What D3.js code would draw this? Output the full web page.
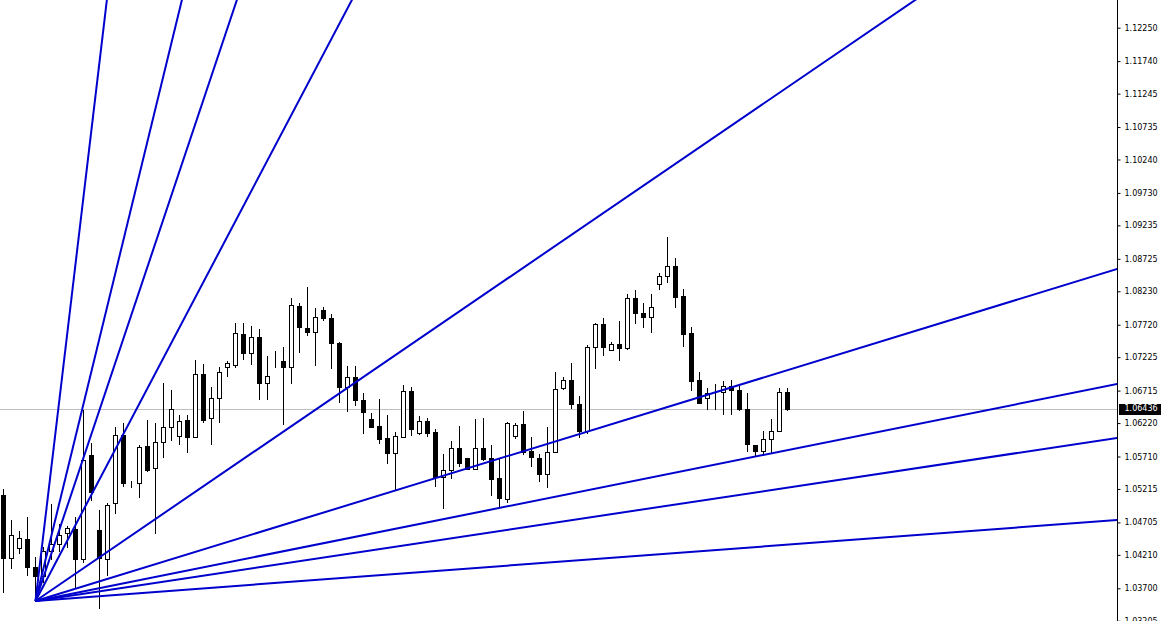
<!DOCTYPE html>
<html>
<head>
<meta charset="utf-8">
<script src="https://cdn.jsdelivr.net/npm/d3@7"></script>
<style>
  body { margin: 0; background: #fff; }
  svg { display: block; }
</style>
</head>
<body>
<svg id="chart" width="1161" height="621"></svg>
<script>
// daily bars, oldest first
const opens = [
  1.05123, 1.04158, 1.04310, 1.04448, 1.04021, 1.03893, 1.04266, 1.04371, 1.04539, 1.04600,
  1.04143, 1.05733, 1.04590, 1.04140, 1.04997, 1.06038, 1.05297, 1.05303, 1.05863, 1.05530,
  1.05935, 1.06165, 1.06023, 1.06267, 1.06012, 1.06964, 1.06293, 1.06598, 1.07075, 1.07106,
  1.07579, 1.07284, 1.07528, 1.06827, 1.07172, 1.07167, 1.07075, 1.08006, 1.07666, 1.07614,
  1.07945, 1.07818, 1.07446, 1.06775, 1.06918, 1.06572, 1.06278, 1.06176, 1.05988, 1.05764,
  1.06012, 1.06709, 1.06064, 1.06252, 1.06089, 1.05402, 1.05505, 1.05843, 1.05683, 1.05523,
  1.05843, 1.05683, 1.05375, 1.05058, 1.06028, 1.06202, 1.05799, 1.05683, 1.05439, 1.05784,
  1.06751, 1.06882, 1.06511, 1.06104, 1.07376, 1.07727, 1.07335, 1.07426, 1.07361, 1.08123,
  1.07894, 1.07833, 1.08337, 1.08456, 1.08616, 1.08158, 1.07589, 1.06877, 1.06598, 1.06725,
  1.06689, 1.06786, 1.06725, 1.06430, 1.05886, 1.05799, 1.05977, 1.06099, 1.06689
];
const highs = [
  1.05210, 1.04742, 1.04574, 1.04792, 1.04182, 1.04335, 1.04986, 1.04676, 1.04651, 1.04792,
  1.06420, 1.05916, 1.04895, 1.04997, 1.06165, 1.06221, 1.05337, 1.05886, 1.06267, 1.06226,
  1.06836, 1.06725, 1.06343, 1.06343, 1.07182, 1.07117, 1.06766, 1.07080, 1.07172, 1.07742,
  1.07742, 1.07701, 1.07650, 1.07243, 1.07319, 1.07376, 1.08123, 1.08047, 1.08300, 1.07980,
  1.07986, 1.07884, 1.07461, 1.07091, 1.07091, 1.06683, 1.06369, 1.06583, 1.06343, 1.06089,
  1.06801, 1.06766, 1.06328, 1.06302, 1.06125, 1.05749, 1.05954, 1.06176, 1.05690, 1.06278,
  1.06293, 1.05886, 1.05683, 1.06232, 1.06226, 1.06404, 1.06003, 1.05744, 1.06160, 1.06999,
  1.06928, 1.07136, 1.06633, 1.07411, 1.07751, 1.07818, 1.07461, 1.07782, 1.08184, 1.08250,
  1.08047, 1.08184, 1.08504, 1.09054, 1.08733, 1.08260, 1.07681, 1.07004, 1.06751, 1.06816,
  1.06867, 1.06882, 1.06786, 1.06674, 1.05890, 1.06104, 1.06282, 1.06751, 1.06751
];
const lows = [
  1.03649, 1.04005, 1.04242, 1.03903, 1.03510, 1.03801, 1.04140, 1.04266, 1.04335, 1.03725,
  1.04102, 1.05047, 1.03395, 1.03903, 1.04844, 1.05258, 1.05241, 1.05097, 1.05482, 1.04539,
  1.05707, 1.05962, 1.05901, 1.05784, 1.06005, 1.06241, 1.05896, 1.06241, 1.06943, 1.07075,
  1.07197, 1.07117, 1.06583, 1.06583, 1.07080, 1.06202, 1.06836, 1.07309, 1.07563, 1.07106,
  1.07792, 1.07060, 1.06546, 1.06404, 1.06496, 1.06073, 1.06160, 1.05912, 1.05607, 1.05210,
  1.06003, 1.06038, 1.06060, 1.06023, 1.05258, 1.04930, 1.05378, 1.05563, 1.05518, 1.05518,
  1.05657, 1.05123, 1.04945, 1.05021, 1.05988, 1.05749, 1.05566, 1.05341, 1.05241, 1.05780,
  1.06745, 1.06446, 1.06003, 1.06064, 1.07060, 1.07258, 1.07330, 1.07182, 1.07355, 1.07751,
  1.07679, 1.07605, 1.08260, 1.08379, 1.07986, 1.07396, 1.06725, 1.06522, 1.06430, 1.06430,
  1.06354, 1.06354, 1.06425, 1.05799, 1.05733, 1.05733, 1.05764, 1.06095, 1.06420
];
const closes = [
  1.04158, 1.04513, 1.04463, 1.04021, 1.03893, 1.04266, 1.04371, 1.04513, 1.04615, 1.04143,
  1.05657, 1.05174, 1.04158, 1.04971, 1.06038, 1.05303, 1.05297, 1.05851, 1.05505, 1.05935,
  1.06160, 1.06430, 1.06256, 1.06012, 1.06964, 1.06267, 1.06598, 1.06995, 1.07132, 1.07589,
  1.07284, 1.07528, 1.06827, 1.06943, 1.07172, 1.07075, 1.08021, 1.07690, 1.07614, 1.07843,
  1.07818, 1.07437, 1.06775, 1.06918, 1.06572, 1.06394, 1.06165, 1.05977, 1.05764, 1.06028,
  1.06709, 1.06130, 1.06252, 1.06073, 1.05402, 1.05505, 1.05843, 1.05614, 1.05523, 1.05843,
  1.05672, 1.05363, 1.05073, 1.06217, 1.06191, 1.05784, 1.05703, 1.05439, 1.05784, 1.06735,
  1.06882, 1.06507, 1.06104, 1.07376, 1.07727, 1.07385, 1.07426, 1.07361, 1.08123, 1.07894,
  1.07833, 1.07986, 1.08456, 1.08616, 1.08148, 1.07579, 1.06867, 1.06531, 1.06683, 1.06725,
  1.06786, 1.06725, 1.06430, 1.05896, 1.05799, 1.05977, 1.06099, 1.06699, 1.06436
];

const priceTicks = [
  1.12250, 1.11740, 1.11245, 1.10735, 1.10240, 1.09730, 1.09235, 1.08725, 1.08230, 1.07720,
  1.07225, 1.06715, 1.06220, 1.05710, 1.05215, 1.04705, 1.04210, 1.03700, 1.03205
];

// gann fan: anchor bar / price and slope of each ray in price per bar
const fanOrigin = { bar: 4, price: 1.03507 };
const fanSlopes = [0.010275, 0.0050085, 0.0036414, 0.0023175, 0.0008335, 0.0003745, 0.0002447, 0.0001839, 0.0000913];

const svg = d3.select('#chart');
const width = +svg.attr('width');
const height = +svg.attr('height');
const plotRight = 1117;
const barStep = 8;

const x = d3.scaleLinear()
  .domain([0, closes.length - 1])
  .range([3.5, 3.5 + barStep * (closes.length - 1)]);
const y = d3.scaleLinear()
  .domain([1.03700, 1.12250])
  .range([588.3, 27.7]);

const bars = closes.map((c, i) => ({ i, o: opens[i], h: highs[i], l: lows[i], c }));
const snap = v => Math.round(v) + 0.5;

svg.append('defs').append('clipPath').attr('id', 'plot')
  .append('rect').attr('x', 0).attr('y', 0).attr('width', plotRight).attr('height', height);

const plot = svg.append('g').attr('clip-path', 'url(#plot)');

// bid line
const lastClose = closes[closes.length - 1];
plot.append('line')
  .attr('x1', 0).attr('x2', plotRight)
  .attr('y1', snap(y(lastClose))).attr('y2', snap(y(lastClose)))
  .attr('stroke', '#c0c0c0').attr('stroke-width', 1);

// candles
const candle = plot.append('g').attr('class', 'candles')
  .selectAll('g').data(bars).enter().append('g');

candle.append('line')
  .attr('x1', d => x(d.i)).attr('x2', d => x(d.i))
  .attr('y1', d => Math.round(y(d.h))).attr('y2', d => Math.round(y(d.l)) + 1)
  .attr('stroke', '#000').attr('stroke-width', 1);

candle.append('rect')
  .attr('x', d => x(d.i) - 2)
  .attr('width', 4)
  .attr('y', d => snap(y(Math.max(d.o, d.c))))
  .attr('height', d => Math.round(y(Math.min(d.o, d.c))) - Math.round(y(Math.max(d.o, d.c))))
  .attr('fill', d => d.c < d.o ? '#000' : '#fff')
  .attr('stroke', '#000').attr('stroke-width', 1);

// fan rays
const farBar = 400;
plot.append('g').attr('class', 'fan')
  .selectAll('line').data(fanSlopes).enter().append('line')
  .attr('x1', x(fanOrigin.bar)).attr('y1', y(fanOrigin.price))
  .attr('x2', x(farBar))
  .attr('y2', s => y(fanOrigin.price + s * (farBar - fanOrigin.bar)))
  .attr('stroke', '#0000cd').attr('stroke-width', 2);

// price scale
svg.append('line')
  .attr('x1', plotRight + 0.5).attr('x2', plotRight + 0.5)
  .attr('y1', 0).attr('y2', height)
  .attr('stroke', '#000').attr('stroke-width', 1);

const axis = svg.append('g')
  .attr('transform', `translate(${plotRight + 0.5},0)`)
  .call(d3.axisRight(y).tickValues(priceTicks).tickFormat(d3.format('.5f')).tickSize(3).tickPadding(4));
axis.select('.domain').remove();
axis.selectAll('.tick line').attr('stroke', '#000');
axis.selectAll('text')
  .attr('font-family', 'DejaVu Sans, sans-serif')
  .attr('font-size', 8)
  .attr('fill', '#000');

// current price tag
const tagY = y(lastClose);
svg.append('rect')
  .attr('x', plotRight + 2).attr('y', Math.round(tagY) - 5)
  .attr('width', width - plotRight - 2).attr('height', 11)
  .attr('fill', '#000');
svg.append('text')
  .attr('x', plotRight + 7.5).attr('y', tagY)
  .attr('dy', '0.32em')
  .attr('font-family', 'DejaVu Sans, sans-serif')
  .attr('font-size', 8)
  .attr('fill', '#fff')
  .text(d3.format('.5f')(lastClose));
</script>
</body>
</html>
